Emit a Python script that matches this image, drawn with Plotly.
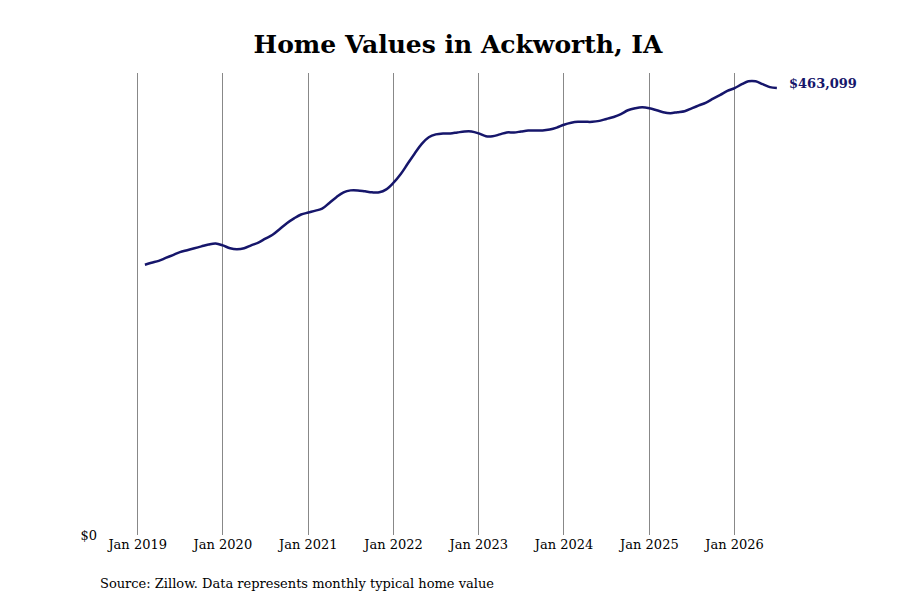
import pandas as pd
import plotly.graph_objects as go

# monthly typical home value, Feb 2019 .. Jul 2026 (thousands)
months = pd.date_range("2019-02-01", "2026-07-01", freq="MS")
values_k = [
    280, 282, 284, 287, 290, 293, 295, 297, 299, 301, 302,
    300, 297, 296, 297, 300, 303, 307, 311, 317, 323, 328, 332,
    334, 336, 338, 344, 350, 355, 357, 357, 356, 355, 355, 358,
    365, 374, 384, 395, 405, 412, 415, 416, 416, 417, 418, 418,
    416, 413, 413, 415, 417, 417, 418, 419, 419, 419, 420, 422,
    425, 427, 428, 428, 428, 429, 431, 433, 436, 440, 442, 443,
    442, 440, 438, 437, 438, 439, 442, 445, 448, 452, 456, 460,
    463, 467, 470, 470, 467, 464, 463.099,
]
values = [v * 1000 for v in values_k]
last_label = "$463,099"
tick_dates = [f"{y}-01-01" for y in range(2019, 2027)]
tick_text = [f"Jan {y}" for y in range(2019, 2027)]

fig = go.Figure()
fig.add_trace(go.Scatter(x=months, y=values, mode="lines",
                         line=dict(color="#16166b", width=2.5, shape="spline"),
                         hoverinfo="skip"))
fig.add_annotation(x=months[-1], y=values[-1], text="<b>" + last_label + "</b>",
                   showarrow=False, xanchor="left", xshift=10, yshift=4,
                   font=dict(family="DejaVu Serif", size=13, color="#16166b"))
fig.add_annotation(x=0, y=-0.085, xref="paper", yref="paper", xanchor="left",
                   yanchor="top", showarrow=False,
                   text="Source: Zillow. Data represents monthly typical home value",
                   font=dict(family="DejaVu Serif", size=13, color="black"))

fig.update_layout(
    width=900, height=600,
    title=dict(text="<b>Home Values in Ackworth, IA</b>", x=0.5, y=0.955,
               font=dict(family="DejaVu Serif", size=25, color="black")),
    paper_bgcolor="white", plot_bgcolor="white",
    margin=dict(l=90, r=45, t=65, b=73),
    showlegend=False,
    font=dict(family="DejaVu Serif", size=13, color="black"),
    xaxis=dict(range=["2018-07-15", "2027-07-05"], tickvals=tick_dates,
               ticktext=tick_text, showgrid=True, gridcolor="#888888",
               gridwidth=1, zeroline=False, showline=False, ticks=""),
    yaxis=dict(range=[0, 478600], tickvals=[0], ticktext=["$0"],
               showgrid=False, zeroline=False, showline=False, ticks=""),
)
fig.write_html("out.html")
